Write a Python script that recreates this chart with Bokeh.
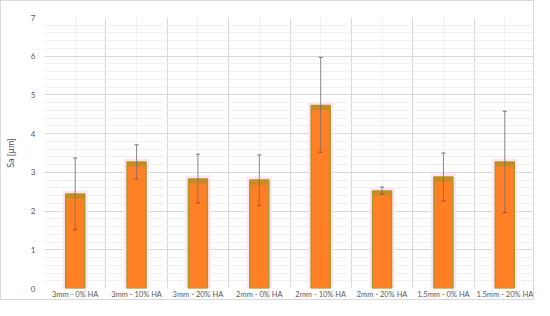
from bokeh.plotting import figure
from bokeh.models import FixedTicker, Whisker, ColumnDataSource, TeeHead, Range1d
from bokeh.embed import file_html
from bokeh.resources import INLINE

categories = ["3mm - 0% HA", "3mm - 10% HA", "3mm - 20% HA", "2mm - 0% HA",
              "2mm - 10% HA", "2mm - 20% HA", "1.5mm - 0% HA", "1.5mm - 20% HA"]
sa_mean = [2.44, 3.27, 2.83, 2.80, 4.73, 2.52, 2.88, 3.27]
sa_upper = [3.37, 3.71, 3.47, 3.45, 5.97, 2.62, 3.50, 4.58]
sa_lower = [1.52, 2.83, 2.21, 2.14, 3.52, 2.44, 2.26, 1.96]
y_ticks = [0, 1, 2, 3, 4, 5, 6, 7]

n = len(categories)
centers = [i + 0.5 for i in range(n)]
bounds = [float(i) for i in range(n + 1)]
minor_y = [i / 5 for i in range(0, 36)]

src = ColumnDataSource(dict(
    x=centers, top=sa_mean, upper=sa_upper, lower=sa_lower,
    glow=[v + 0.09 for v in sa_mean],
    band=[v - 0.12 for v in sa_mean],
))

p = figure(width=534, height=300, output_backend="svg", toolbar_location=None,
           x_range=Range1d(0, n), y_range=Range1d(0, 7),
           min_border_top=16, min_border_right=0, min_border_bottom=0, min_border_left=15)
p.styles = {"border": "1px solid #d9d9d9", "box-sizing": "border-box"}
p.outline_line_color = None
p.background_fill_color = "white"
p.border_fill_color = "white"

# pink glow
p.vbar(x="x", top="glow", bottom=0, width=0.41, source=src,
       fill_color="#fde4f7", line_color=None)
# bars
p.vbar(x="x", top="top", bottom=0, width=0.31, source=src,
       fill_color="#ff7f24", line_color="#a89a2a", line_width=1.5)
# top darker band
p.vbar(x="x", top="top", bottom="band", width=0.29, source=src,
       fill_color="#c48c22", line_color=None)

w = Whisker(source=src, base="x", upper="upper", lower="lower",
            line_color="#6f6f6f", line_alpha=0.8, line_width=1, level="overlay",
            upper_head=TeeHead(size=4, line_color="#6f6f6f", line_width=1),
            lower_head=TeeHead(size=4, line_color="#b04030", line_width=1))
p.add_layout(w)

p.xaxis.ticker = FixedTicker(ticks=centers, minor_ticks=bounds)
p.xaxis.major_label_overrides = {c: lab for c, lab in zip(centers, categories)}
p.yaxis.ticker = FixedTicker(ticks=y_ticks, minor_ticks=minor_y)

for ax in (p.xaxis, p.yaxis):
    ax.axis_line_color = None
    ax.major_tick_line_color = None
    ax.minor_tick_line_color = None
    ax.major_tick_out = 0
    ax.major_tick_in = 0
    ax.minor_tick_out = 0
    ax.minor_tick_in = 0
    ax.major_label_text_color = "#595959"
    ax.major_label_text_font = "Lato"
    ax.major_label_text_font_size = "8px"

p.xaxis.major_label_text_font_size = "7.5px"
p.xaxis.major_label_standoff = 1
p.yaxis.major_label_standoff = 9
p.yaxis.axis_label = "Sa [μm]"
p.yaxis.axis_label_text_font = "Lato"
p.yaxis.axis_label_text_font_size = "9px"
p.yaxis.axis_label_text_font_style = "normal"
p.yaxis.axis_label_text_color = "#595959"
p.yaxis.axis_label_standoff = 12

p.xgrid.grid_line_color = "#f0f0f0"
p.xgrid.minor_grid_line_color = "#d9d9d9"
p.ygrid.grid_line_color = "#d9d9d9"
p.ygrid.minor_grid_line_color = "#f0f0f0"

open("out.html", "w").write(file_html(p, INLINE))
